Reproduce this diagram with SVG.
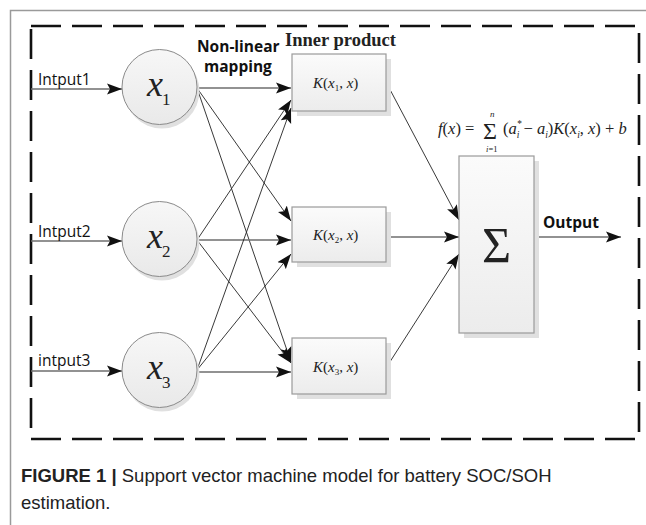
<svg xmlns="http://www.w3.org/2000/svg" width="646" height="525" viewBox="0 0 646 525">
<defs>
<marker id="ah" markerUnits="userSpaceOnUse" markerWidth="16" markerHeight="12" refX="15" refY="6" orient="auto">
<path d="M0,0.5 L15,6 L0,11.5 L3,6 z" fill="#111"/>
</marker>
<linearGradient id="gc" x1="0" y1="0" x2="0" y2="1">
<stop offset="0" stop-color="#f7f7f7"/><stop offset="1" stop-color="#e9e9e9"/>
</linearGradient>
<linearGradient id="gb" x1="0" y1="0" x2="0" y2="1">
<stop offset="0" stop-color="#fbfbfb"/><stop offset="1" stop-color="#ececec"/>
</linearGradient>
</defs>
<style>
.frame{fill:none;stroke:#9a9a9a;stroke-width:1.5}
.dash{fill:none;stroke:#111;stroke-width:2.6;stroke-dasharray:30 11}
.circ{fill:url(#gc);stroke:#8a8a8a;stroke-width:1}
.box{fill:url(#gb);stroke:#9a9a9a;stroke-width:1.2}
.shadow{fill:#e0e0e0}
.h{stroke:#6e6e6e;stroke-width:1.4;fill:none;marker-end:url(#ah)}
.d{stroke:#222;stroke-width:0.9;fill:none;marker-end:url(#ah)}
.lbl{font-family:"Open Sans","DejaVu Sans",sans-serif;font-size:15.5px;fill:#111}
.bold{font-family:"Open Sans","DejaVu Sans",sans-serif;font-weight:bold;font-size:15.5px;fill:#111}
.math{font-family:"Liberation Serif","Times New Roman",serif;fill:#222}
.cap{font-family:"Liberation Sans",Arial,sans-serif;font-size:18.5px;fill:#222}
</style>

<path class="frame" d="M10.5,525 L10.5,10.5 L646,10.5"/>
<rect class="dash" x="31" y="26" width="608" height="413"/>

<g id="connectors">
<line class="h" x1="31" y1="89" x2="122" y2="89"/>
<line class="h" x1="31" y1="241" x2="122" y2="241"/>
<line class="h" x1="31" y1="371" x2="122" y2="371"/>

<line class="h" x1="197" y1="88" x2="291" y2="88"/>
<line class="d" x1="197" y1="88" x2="291" y2="221"/>
<line class="d" x1="197" y1="88" x2="291" y2="362"/>

<line class="d" x1="197" y1="240" x2="291" y2="100"/>
<line class="h" x1="197" y1="240" x2="291" y2="240"/>
<line class="d" x1="197" y1="240" x2="291" y2="363"/>

<line class="d" x1="197" y1="370" x2="291" y2="108"/>
<line class="d" x1="197" y1="370" x2="291" y2="254"/>
<line class="h" x1="197" y1="372" x2="291" y2="372"/>

<line class="d" x1="386" y1="82" x2="459" y2="220"/>
<line class="h" x1="386" y1="237" x2="459" y2="237"/>
<line class="d" x1="386" y1="368" x2="459" y2="254"/>

<line class="h" x1="534" y1="237" x2="621" y2="237"/>
</g>

<g id="input-labels">
<text class="lbl" x="38" y="85">Intput1</text>
<text class="lbl" x="38" y="237">Intput2</text>
<text class="lbl" x="38" y="366">intput3</text>
</g>

<g id="x1">
<circle class="shadow" cx="162" cy="91" r="37.5"/>
<circle class="circ" cx="159.5" cy="87" r="37.5"/>
<text class="math" x="147" y="96" font-size="36" font-style="italic">x</text>
<text class="math" x="162" y="105" font-size="17">1</text>
</g>
<g id="x2">
<circle class="shadow" cx="162" cy="243" r="37.5"/>
<circle class="circ" cx="159.5" cy="239" r="37.5"/>
<text class="math" x="147" y="248" font-size="36" font-style="italic">x</text>
<text class="math" x="162" y="257" font-size="17">2</text>
</g>
<g id="x3">
<circle class="shadow" cx="162" cy="374" r="37.5"/>
<circle class="circ" cx="159.5" cy="370" r="37.5"/>
<text class="math" x="147" y="379" font-size="36" font-style="italic">x</text>
<text class="math" x="162" y="388" font-size="17">3</text>
</g>

<g id="header-labels">
<text class="bold" x="197" y="52">Non-linear</text>
<text class="bold" x="204" y="72">mapping</text>
<text class="math" x="285" y="46" font-size="18.5" font-weight="bold" fill="#111">Inner product</text>
</g>

<g id="k1">
<rect class="shadow" x="297" y="59" width="94" height="57"/>
<rect class="box" x="292" y="54" width="94" height="57"/>
<text class="math" x="313" y="88" font-size="15"><tspan font-style="italic">K</tspan>(<tspan font-style="italic">x</tspan><tspan font-size="9" dy="3">1</tspan><tspan dy="-3">, </tspan><tspan font-style="italic">x</tspan>)</text>
</g>
<g id="k2">
<rect class="shadow" x="297" y="212" width="94" height="55"/>
<rect class="box" x="292" y="207" width="94" height="55"/>
<text class="math" x="313" y="240" font-size="15"><tspan font-style="italic">K</tspan>(<tspan font-style="italic">x</tspan><tspan font-size="9" dy="3">2</tspan><tspan dy="-3">, </tspan><tspan font-style="italic">x</tspan>)</text>
</g>
<g id="k3">
<rect class="shadow" x="297" y="343" width="94" height="56"/>
<rect class="box" x="292" y="338" width="94" height="56"/>
<text class="math" x="313" y="372" font-size="15"><tspan font-style="italic">K</tspan>(<tspan font-style="italic">x</tspan><tspan font-size="9" dy="3">3</tspan><tspan dy="-3">, </tspan><tspan font-style="italic">x</tspan>)</text>
</g>

<g id="sum">
<rect class="shadow" x="464" y="161" width="75" height="177"/>
<rect class="box" x="459" y="156" width="75" height="177"/>
<text class="math" x="496.5" y="262" font-size="50" text-anchor="middle">Σ</text>
</g>

<g id="formula">
<text class="math" x="438" y="134" font-size="16.5"><tspan font-style="italic">f</tspan>(<tspan font-style="italic">x</tspan>) = </text>
<text class="math" x="483" y="139" font-size="24">Σ</text>
<text class="math" x="490" y="117" font-size="9" font-style="italic">n</text>
<text class="math" x="486" y="152" font-size="8.5"><tspan font-style="italic">i</tspan>=1</text>
<text class="math" x="503" y="134" font-size="16.5">(<tspan font-style="italic">a</tspan><tspan font-size="9.5" font-style="italic" dy="-7">*</tspan><tspan font-size="9.5" font-style="italic" dx="-4.8" dy="11">i</tspan><tspan dy="-4"> − </tspan><tspan font-style="italic">a</tspan><tspan font-size="9.5" font-style="italic" dy="4">i</tspan><tspan dy="-4">)</tspan><tspan font-style="italic">K</tspan>(<tspan font-style="italic">x</tspan><tspan font-size="9.5" font-style="italic" dy="4">i</tspan><tspan dy="-4">, </tspan><tspan font-style="italic">x</tspan>) + <tspan font-style="italic">b</tspan></text>
</g>

<text class="bold" x="543" y="228">Output</text>

<g id="caption">
<text class="cap" x="21" y="482"><tspan font-weight="bold">FIGURE 1 | </tspan>Support vector machine model for battery SOC/SOH</text>
<text class="cap" x="21" y="509">estimation.</text>
</g>
</svg>
